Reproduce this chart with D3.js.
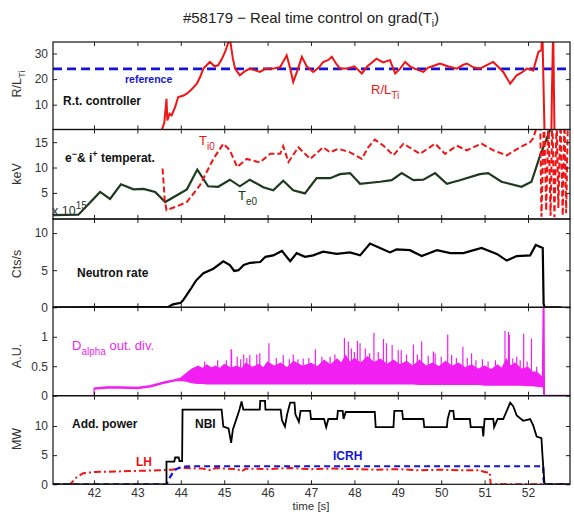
<!DOCTYPE html>
<html><head><meta charset="utf-8">
<script src="https://cdn.jsdelivr.net/npm/d3@7"></script>
<style>body{margin:0;background:#fff;}svg{display:block;font-family:"Liberation Sans",Arial,Helvetica,sans-serif;}</style>
</head><body><svg id="c" width="574" height="513"></svg>
<script>
// ---------- data (time in s) ----------
const xTicks = [42,43,44,45,46,47,48,49,50,51,52];
const refLevel = 24;
const rltData = [[43.56,0],[43.62,3],[43.67,12.3],[43.69,3.8],[43.74,6.5],[43.79,5.8],[43.87,9.1],[43.94,13],[44.05,13.5],[44.14,14.3],[44.25,16],[44.37,18.2],[44.45,21],[44.52,24.1],[44.6,25.5],[44.67,26.7],[44.78,25],[44.86,25.4],[44.95,28],[45.02,30.6],[45.13,36],[45.2,28],[45.25,24.1],[45.36,21.5],[45.47,23],[45.59,24.1],[45.7,23.5],[45.82,22.8],[45.95,24],[46.13,24.1],[46.29,24.7],[46.44,29.3],[46.52,24.1],[46.59,18.9],[46.68,23],[46.79,28.7],[46.9,25],[47.05,22.8],[47.18,24.5],[47.28,26.7],[47.4,27.5],[47.48,28.7],[47.58,26],[47.67,24.1],[47.82,24.1],[48.0,25],[48.17,22.2],[48.3,25],[48.51,28],[48.66,26.5],[48.82,27.4],[48.94,22.2],[49.05,24],[49.17,26.7],[49.28,25],[49.4,24],[49.59,22.8],[49.7,24.5],[49.8,25],[49.97,26.1],[50.15,25],[50.36,24.1],[50.5,25.5],[50.59,26.1],[50.75,24.5],[50.89,24.1],[51.05,25.5],[51.2,26.7],[51.3,25],[51.43,22.8],[51.59,18.2],[51.74,21.5],[51.85,22.5],[51.97,24.1],[52.12,23.4],[52.24,30.6],[52.31,31.3],[52.33,40],[52.38,0],[52.54,0],[52.55,13],[52.58,40],[52.61,0]];
const teData = [[41.06,0.63],[41.64,0.7],[42.14,5.2],[42.37,3.8],[42.62,6.7],[42.91,5.7],[43.14,5.8],[43.41,5.2],[43.64,3.2],[44.14,5.7],[44.38,9.6],[44.63,6.3],[44.86,6.2],[45.13,7.6],[45.36,6.3],[45.59,7.6],[45.9,6.1],[46.13,5.5],[46.36,7.4],[46.59,5.5],[46.86,4.9],[47.13,7.9],[47.44,7.9],[47.67,8.7],[47.9,8.9],[48.13,6.8],[48.59,7.2],[48.86,7.5],[49.09,8.9],[49.36,7.5],[49.59,7.6],[49.86,8.9],[50.13,6.8],[50.43,7.5],[50.89,8.7],[51.08,8.9],[51.39,7.2],[51.85,6.2],[52.08,7.2],[52.28,12.4],[52.56,18.5]];
const tiData = [[43.58,9.8],[43.63,3.5],[43.67,1.6],[43.9,2.3],[44.14,3.2],[44.44,6.5],[44.75,11.7],[44.98,14.7],[45.13,13.4],[45.3,10.1],[45.52,11.7],[45.82,11.0],[46.06,12.7],[46.29,12.7],[46.36,14.2],[46.48,11.1],[46.71,14.0],[46.98,11.7],[47.28,14.0],[47.44,13.0],[47.63,13.7],[47.9,13.0],[48.17,11.7],[48.32,14.0],[48.47,15.5],[48.67,14.3],[48.9,12.4],[49.13,14.7],[49.51,12.7],[49.86,14.7],[50.09,12.7],[50.36,14.3],[50.59,13.4],[50.93,14.7],[51.2,13.4],[51.51,12.4],[51.82,14.0],[52.05,15.0],[52.12,15.8],[52.28,20],[52.31,0.3],[52.37,20],[52.42,1.5],[52.47,20],[52.52,0.5],[52.56,20],[52.61,0.2],[52.66,20],[52.7,2],[52.75,20],[52.8,0.5],[52.84,20],[52.88,1],[52.92,20]];
const neutronData = [[41.06,0],[43.71,0.05],[43.82,0.4],[44.0,0.6],[44.06,1.0],[44.21,2.3],[44.35,3.6],[44.52,4.6],[44.75,5.2],[44.98,6.2],[45.13,5.7],[45.23,4.9],[45.33,5.0],[45.45,5.7],[45.6,6.0],[45.83,6.1],[45.95,6.8],[46.13,7.0],[46.33,7.6],[46.52,6.2],[46.67,7.3],[46.86,6.8],[47.05,7.0],[47.28,7.5],[47.59,7.2],[47.9,7.4],[48.13,7.0],[48.36,8.6],[48.59,8.0],[48.82,7.4],[48.97,7.8],[49.28,7.7],[49.55,6.9],[49.9,7.7],[50.21,7.3],[50.51,7.3],[50.93,8.0],[51.28,7.2],[51.51,6.3],[51.74,6.9],[52.05,7.0],[52.18,8.4],[52.34,8.0],[52.36,0.5],[52.38,0],[52.77,0]];
// D-alpha: [time, lower envelope, upper envelope]
const dalphaBand = [[42.0,0,0],[42.0,0.11,0.13],[42.3,0.13,0.15],[42.6,0.13,0.15],[43.0,0.12,0.14],[43.3,0.15,0.17],[43.6,0.21,0.23],[43.85,0.25,0.27],[44.0,0.26,0.3],[44.1,0.25,0.36],[44.25,0.22,0.45],[44.4,0.21,0.5],[44.5,0.21,0.46],[44.6,0.2,0.52],[44.7,0.2,0.47],[44.8,0.2,0.5],[44.9,0.2,0.46],[45.0,0.2,0.53],[45.15,0.2,0.47],[45.3,0.2,0.5],[45.4,0.2,0.45],[45.5,0.2,0.55],[45.65,0.2,0.48],[45.8,0.2,0.53],[45.9,0.2,0.47],[46.0,0.2,0.57],[46.15,0.2,0.5],[46.3,0.2,0.55],[46.45,0.2,0.47],[46.6,0.2,0.58],[46.8,0.2,0.5],[47.0,0.2,0.55],[47.15,0.2,0.49],[47.3,0.2,0.6],[47.45,0.2,0.52],[47.6,0.2,0.62],[47.7,0.2,0.55],[47.8,0.2,0.68],[47.9,0.2,0.56],[48.0,0.2,0.63],[48.15,0.2,0.55],[48.3,0.2,0.66],[48.45,0.2,0.56],[48.6,0.2,0.62],[48.75,0.2,0.53],[48.9,0.2,0.6],[49.05,0.2,0.52],[49.2,0.2,0.58],[49.35,0.2,0.5],[49.5,0.19,0.6],[49.65,0.19,0.5],[49.8,0.19,0.55],[49.95,0.19,0.49],[50.1,0.19,0.58],[50.25,0.19,0.5],[50.4,0.19,0.55],[50.55,0.19,0.47],[50.7,0.19,0.52],[50.85,0.19,0.45],[51.0,0.18,0.5],[51.15,0.18,0.44],[51.3,0.18,0.52],[51.4,0.18,0.46],[51.5,0.18,0.62],[51.6,0.18,0.5],[51.7,0.18,0.55],[51.85,0.18,0.45],[52.0,0.17,0.48],[52.1,0.17,0.4],[52.2,0.16,0.4],[52.34,0.15,0.3]];
const dalphaSpikes = [[44.55,0.58],[44.85,0.6],[45.05,0.6],[45.16,0.79],[45.17,0.78],[45.3,0.66],[45.38,0.62],[45.45,0.7],[45.52,0.64],[45.59,0.69],[45.75,0.7],[45.82,0.72],[46.03,0.89],[46.2,0.64],[46.36,0.69],[46.5,0.62],[46.59,0.7],[46.7,0.62],[46.82,0.63],[46.95,0.64],[47.1,0.79],[47.25,0.66],[47.44,0.66],[47.55,0.7],[47.77,0.98],[47.86,0.92],[47.93,0.8],[48.0,0.74],[48.07,0.93],[48.13,0.89],[48.25,0.8],[48.35,0.72],[48.45,1.07],[48.55,0.74],[48.67,0.96],[48.74,0.89],[48.87,0.86],[49.01,0.77],[49.08,0.77],[49.2,0.7],[49.36,0.87],[49.45,0.7],[49.55,0.92],[49.7,0.68],[49.82,0.75],[49.86,0.72],[50.0,0.66],[50.15,1.04],[50.24,0.69],[50.35,0.64],[50.5,0.83],[50.6,0.64],[50.7,0.72],[50.8,0.6],[50.95,0.62],[51.08,0.58],[51.25,0.6],[51.47,1.1],[51.55,1.08],[51.57,1.03],[51.65,0.63],[51.74,0.66],[51.82,0.6],[51.9,1.05],[51.98,0.58],[52.08,0.97],[52.2,0.49]];
const dalphaEnd = [[52.34,0.15],[52.36,1.6],[52.37,0],[52.96,0]];
const nbiData = [[41.06,0],[43.67,0],[43.67,3.9],[43.85,3.9],[43.87,4.6],[43.95,4.6],[43.97,4.0],[44.03,4.0],[44.04,12.8],[44.94,12.8],[44.98,9.9],[45.1,9.6],[45.16,7.1],[45.2,9.4],[45.29,11.4],[45.35,12.8],[45.4,14.2],[45.44,12.8],[45.82,12.8],[45.83,14.3],[45.94,14.3],[45.95,12.8],[46.3,12.8],[46.33,11.0],[46.4,9.9],[46.45,12.0],[46.52,14.0],[46.62,14.0],[46.64,12.0],[46.72,10.7],[46.76,12.6],[46.98,12.6],[47.0,11.2],[47.3,11.2],[47.35,9.8],[47.4,11.2],[47.6,11.2],[47.62,12.6],[47.73,12.6],[47.75,11.2],[47.8,12.4],[48.47,12.4],[48.49,9.8],[48.9,9.8],[48.92,12.6],[49.1,12.6],[49.12,11.2],[49.59,11.2],[49.61,9.8],[50.13,9.8],[50.15,11.2],[50.2,12.6],[50.28,12.6],[50.3,11.2],[50.66,11.2],[50.68,9.8],[50.95,9.8],[50.97,8.2],[51.0,11.2],[51.2,11.2],[51.22,9.8],[51.3,11.2],[51.43,11.2],[51.59,14],[51.66,13.4],[51.74,11.8],[51.89,10.9],[52.05,11.2],[52.12,10.1],[52.2,8.2],[52.31,7.9],[52.33,5.4],[52.38,0],[52.96,0]];
const icrhData = [[41.06,0],[43.67,0],[43.75,1.2],[43.85,2.4],[44.0,3.0],[44.3,3.1],[52.35,3.1],[52.36,0.8],[52.38,0],[52.96,0]];
const lhData = [[41.06,0],[41.45,0],[41.6,1.2],[41.75,1.9],[42.0,2.1],[42.5,2.2],[43.0,2.3],[43.5,2.4],[43.8,2.5],[44.0,2.8],[44.5,2.7],[44.7,2.4],[44.8,2.8],[45.3,2.6],[45.4,2.2],[45.5,2.7],[46.0,2.6],[46.5,2.8],[47.0,2.6],[47.5,2.7],[48.0,2.6],[48.5,2.5],[49.0,2.6],[49.5,2.4],[50.0,2.5],[50.5,2.4],[50.9,2.4],[51.0,2.1],[51.12,2.0],[51.14,0],[52.96,0]];
const yTickVals = [[10,20,30],[5,10,15],[0,5,10],[0,0.5,1],[0,5,10]];

// ---------- layout ----------
const svg = d3.select("#c");
const L = 53, R = 570;
const x = d3.scaleLinear().domain([41.055,52.968]).range([L,R]);
const panels = [
  {top:42,  bottom:129.5, domain:[0.3,34.5]},
  {top:129.5, bottom:219, domain:[-0.15,17.5]},
  {top:219, bottom:307.3, domain:[0,11.9]},
  {top:307.3, bottom:395.7, domain:[0,1.5]},
  {top:395.7, bottom:484.3, domain:[0,15.2]}
];
panels.forEach((p,i)=>{
  p.y = d3.scaleLinear().domain(p.domain).range([p.bottom,p.top]);
  const cp = svg.append("clipPath").attr("id","clip"+i);
  cp.append("rect").attr("x",L).attr("y",p.top).attr("width",R-L).attr("height",p.bottom-p.top);
  p.g = svg.append("g").attr("clip-path",`url(#clip${i})`);
});
const lineFor = p => d3.line().x(d=>x(d[0])).y(d=>p.y(d[1]));

// Panel 1
{const p=panels[0];
 p.g.append("path").datum([[41.055,refLevel],[52.968,refLevel]]).attr("d",lineFor(p)).attr("fill","none").attr("stroke","#1414d8").attr("stroke-width",2.6).attr("stroke-dasharray","9,5");
 p.g.append("path").datum(rltData).attr("d",lineFor(p)).attr("fill","none").attr("stroke","#f01414").attr("stroke-width",2);
}
// Panel 2
{const p=panels[1];
 p.g.append("path").datum(teData).attr("d",lineFor(p)).attr("fill","none").attr("stroke","#1e3a1e").attr("stroke-width",2.2);
 p.g.append("path").datum(tiData).attr("d",lineFor(p)).attr("fill","none").attr("stroke","#f01414").attr("stroke-width",2).attr("stroke-dasharray","6,3");
}
// Panel 3
{const p=panels[2];
 p.g.append("path").datum(neutronData).attr("d",lineFor(p)).attr("fill","none").attr("stroke","#000").attr("stroke-width",2.2);
}
// Panel 4
{const p=panels[3];
 const area = d3.area().x(d=>x(d[0])).y0(d=>p.y(d[1])).y1(d=>p.y(d[2]));
 p.g.append("path").datum(dalphaBand).attr("d",area).attr("fill","#f21ff2").attr("stroke","#f21ff2").attr("stroke-width",1.2);
 p.g.selectAll("path.spk").data(dalphaSpikes).join("path").attr("class","spk")
   .attr("d",d=>lineFor(p)([[d[0],0.3],[d[0],d[1]]])).attr("stroke","#f21ff2").attr("stroke-width",1.2);
 p.g.append("path").datum(dalphaEnd).attr("d",lineFor(p)).attr("fill","none").attr("stroke","#f21ff2").attr("stroke-width",2);
}
// Panel 5
{const p=panels[4];
 p.g.append("path").datum(lhData).attr("d",lineFor(p)).attr("fill","none").attr("stroke","#f01414").attr("stroke-width",2).attr("stroke-dasharray","7,3,2,3");
 p.g.append("path").datum(icrhData).attr("d",lineFor(p)).attr("fill","none").attr("stroke","#1414d8").attr("stroke-width",2.2).attr("stroke-dasharray","6,4");
 p.g.append("path").datum(nbiData).attr("d",lineFor(p)).attr("fill","none").attr("stroke","#000").attr("stroke-width",1.8);
}

// axes
panels.forEach((p,i)=>{
  const last = i===panels.length-1;
  const ga = svg.append("g");
  const yl = ga.append("g").attr("transform",`translate(${L},0)`).call(d3.axisLeft(p.y).tickValues(yTickVals[i]).tickSize(-4).tickPadding(5).tickFormat(d3.format("")));
  const yr = ga.append("g").attr("transform",`translate(${R},0)`).call(d3.axisRight(p.y).tickValues(yTickVals[i]).tickSize(-4).tickFormat(""));
  const xt = ga.append("g").attr("transform",`translate(0,${p.top})`).call(d3.axisTop(x).tickValues(xTicks).tickSize(-4).tickFormat(""));
  const xb = ga.append("g").attr("transform",`translate(0,${p.bottom})`).call(d3.axisBottom(x).tickValues(xTicks).tickSize(-4).tickPadding(4).tickFormat(last?d3.format("d"):""));
  [yl,yr,xt,xb].forEach(a=>{a.select(".domain").remove(); a.selectAll("line").attr("stroke","#222"); a.selectAll("text").attr("font-size",12).attr("fill","#333").attr("font-family",null);});
  svg.append("rect").attr("x",L).attr("y",p.top).attr("width",R-L).attr("height",p.bottom-p.top).attr("fill","none").attr("stroke","#111").attr("stroke-width",1.2);
});

// text helpers
function txt(xp,yp,size,color,weight){return svg.append("text").attr("x",xp).attr("y",yp).attr("font-size",size).attr("fill",color).attr("font-weight",weight||"normal");}
// title
{const t=txt(311,23,15,"#222").attr("text-anchor","middle");
 t.append("tspan").text("#58179 \u2212 Real time control on grad(T");
 t.append("tspan").attr("font-size",10).attr("dy",4).text("i");
 t.append("tspan").attr("dy",-4).text(")");}
// y labels
function ylab(yc,parts){const t=svg.append("text").attr("transform",`translate(21,${yc}) rotate(-90)`).attr("text-anchor","middle").attr("font-size",12.5).attr("fill","#333");
  parts.forEach(pt=>t.append("tspan").attr("font-size",pt[1]||12.5).attr("dy",pt[2]||0).text(pt[0]));}
ylab(84,[["R/L"],["Ti",9.5,4]]);
ylab(174,[["keV"]]);
ylab(264,[["Cts/s"]]);
ylab(356,[["A.U."]]);
ylab(439,[["MW"]]);
// panel 1 labels
txt(125,83,10.5,"#1414d8","bold").text("reference");
txt(63,105,12,"#111","bold").text("R.t. controller");
{const t=txt(371,94,13,"#f01414"); t.append("tspan").text("R/L"); t.append("tspan").attr("font-size",10).attr("dy",5).text("Ti");}
// panel 2 labels
{const t=txt(65,162,12,"#111","bold"); t.append("tspan").text("e"); t.append("tspan").attr("font-size",9).attr("dy",-5).text("\u2212"); t.append("tspan").attr("dy",5).text("& i"); t.append("tspan").attr("font-size",9).attr("dy",-5).text("+"); t.append("tspan").attr("dy",5).text(" temperat.");}
{const t=txt(199,145,13,"#f01414"); t.append("tspan").text("T"); t.append("tspan").attr("font-size",10).attr("dy",5).text("i0");}
{const t=txt(238,200,13,"#1e3a1e"); t.append("tspan").text("T"); t.append("tspan").attr("font-size",10).attr("dy",5).text("e0");}
{const t=txt(52,215,12.5,"#333"); t.append("tspan").text("x 10"); t.append("tspan").attr("font-size",10).attr("dy",-6).text("15");}
// panel 3
txt(77,277,12,"#111","bold").text("Neutron rate");
// panel 4
{const t=txt(72,350,13,"#f21ff2"); t.append("tspan").text("D"); t.append("tspan").attr("font-size",10).attr("dy",5).text("alpha"); t.append("tspan").attr("dy",-5).text(" out. div.");}
// panel 5
txt(72,428,12,"#111","bold").text("Add. power");
txt(195,428,12,"#111","bold").text("NBI");
txt(136,466,12,"#f01414","bold").text("LH");
txt(333,460,12,"#1414d8","bold").text("ICRH");
txt(311,509.5,11.5,"#333").attr("text-anchor","middle").text("time [s]");
</script></body></html>
